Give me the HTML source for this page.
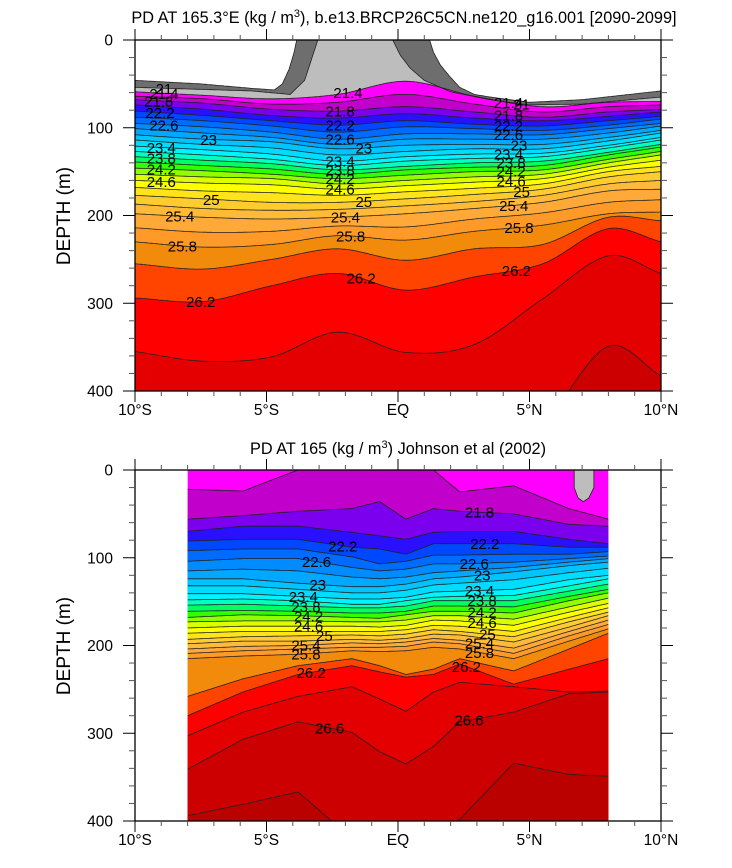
<!DOCTYPE html>
<html><head><meta charset="utf-8"><style>
body{margin:0;background:#fff;}
svg{display:block;font-family:"Liberation Sans",Arial,sans-serif;}
</style></head><body>
<svg id="chart" width="732" height="868" viewBox="0 0 732 868" xmlns="http://www.w3.org/2000/svg">
<text x="404" y="23" font-size="16.3" text-anchor="middle">PD AT 165.3°E (kg / m<tspan font-size="11" dy="-6">3</tspan><tspan dy="6">), b.e13.BRCP26C5CN.ne120_g16.001 [2090-2099]</tspan></text>
<text x="398" y="454" font-size="16.3" text-anchor="middle">PD AT 165 (kg / m<tspan font-size="11" dy="-6">3</tspan><tspan dy="6">) Johnson et al (2002)</tspan></text>
<text transform="translate(70,216) rotate(-90)" font-size="19" text-anchor="middle">DEPTH (m)</text>
<text transform="translate(70,646) rotate(-90)" font-size="19" text-anchor="middle">DEPTH (m)</text>
<g id="top-panel"></g>
<g id="bottom-panel"></g>
</svg>
<script>
// ---------- data ----------
const bandLevels=[20.6,21.0,21.4,21.6,21.8,22.0,22.2,22.4,22.6,22.8,23.0,23.2,23.4,23.6,23.8,24.0,24.2,24.4,24.6,24.8,25.0,25.2,25.4,25.6,25.8,26.0,26.2,26.4,26.6,26.8];
const bandColors=["#6e6e6e","#bdbdbd","#ff00ff","#c200cc","#7a00ee","#2a10ff","#0048ff","#006cff","#008cff","#00a8ff","#00c4ff","#00dcff","#00f4ff","#00ffc0","#00ff60","#30ff00","#90ff00","#dcff00","#ffff00","#ffe41c","#ffcc30","#ffbb38","#ffaa38","#ff9a28","#f28a0c","#ff4400","#ff0000","#e40000","#cc0000","#bb0000"];

// top panel (model): isopycnal depths (m) per latitude
const topLats=[-10,-7.4,-4.8,-2.3,0.3,2.9,5.5,8,10];
const topLevels=[21.4,21.6,21.8,22.0,22.2,22.4,22.6,22.8,23.0,23.2,23.4,23.6,23.8,24.0,24.2,24.4,24.6,24.8,25.0,25.2,25.4,25.6,25.8,26.0,26.2,26.4,26.6];
const topProfS10=[59,64,68,74,81,88,95,101,108,114,121,127,133,139,146,153,160,168,177,187,198,214,230,255,294,355,432];
const topProfS7=[63,67,72,79,86,92,99,106,113,119,125,131,137,143,149,156,163,172,181,192,202,219,236,261,298,366,432];
const topProfS5=[67,73,79,86,92,98,105,111,116,123,130,136,141,147,153,158,165,174,185,194,204,218,233,250,280,361,432];
const topProfS2=[62,71,81,89,97,105,113,119,124,131,138,143,148,153,158,164,170,177,185,193,202,212,223,238,266,333,432];
const topProfEQ=[47,62,76,84,92,99,107,113,120,127,133,138,144,148,154,160,166,173,181,189,198,213,228,251,285,356,432];
const topProfN3=[64,73,82,89,96,101,107,113,119,124,130,135,140,145,150,156,162,169,176,184,192,204,218,238,270,347,432];
const topProfN5=[76,82,88,92,98,103,108,113,119,124,129,133,138,143,148,153,158,164,170,177,185,197,211,233,255,295,432];
const topProfN8=[71,76,82,87,92,97,101,106,111,115,120,123,128,131,136,140,145,150,156,164,172,185,198,202,215,246,349];
const topProfN10=[70,74,79,82,87,90,95,98,103,106,111,114,119,122,127,131,137,144,150,160,170,182,196,206,230,266,383];
const topProfiles=[topProfS10,topProfS7,topProfS5,topProfS2,topProfEQ,topProfN3,topProfN5,topProfN8,topProfN10];
// surface grey layers
const iso206Lats=[-10,-7.5,-5.6,-4.7,-4.4,-4.15,-3.95,-3.85,1.2,1.35,1.6,1.95,2.35,2.9,3.5,5,7,10];
const iso206Depth=[46,50,55,57,50,34,14,0,0,14,28,41,54,62,65,71,68,58];
const iso210Lats=[-10,-5.6,-4.1,-3.55,-3.3,-3.05,-0.2,0.08,0.46,1.0,2.0,3.5,5,7,10];
const iso210Depth=[54,58,62,46,23,0,0,17,32,46,59,68,74,73,65];

// bottom panel (observations)
const obsLats=[-8,-5.9,-3.8,-1.75,-0.7,0.3,1.35,2.35,4.4,6.5,8];
const obsLevels=[21.6,21.8,22.0,22.2,22.4,22.6,22.8,23.0,23.2,23.4,23.6,23.8,24.0,24.2,24.4,24.6,24.8,25.0,25.2,25.4,25.6,25.8,26.0,26.2,26.4,26.6,26.8];
const obsProf1=[22,56,70,81,92,104,115,124,132,141,148,154,161,168,173,180,186,193,198,204,209,215,258,280,303,341,394];
const obsProf2=[24,52,64,79,90,101,113,124,132,141,147,153,160,165,172,178,184,190,195,201,206,212,238,253,276,307,381];
const obsProf3=[0,47,64,79,90,101,115,129,136,144,149,155,161,166,172,178,184,189,195,200,204,210,223,233,258,287,367];
const obsProf4=[0,44,71,88,99,111,122,133,140,147,153,157,163,168,173,178,184,188,193,197,202,206,215,223,247,299,420];
const obsProf5=[0,36,75,90,107,115,124,133,140,147,153,157,163,169,173,179,184,189,194,198,202,207,223,230,261,321,420];
const obsProf6=[0,56,79,96,104,113,122,130,137,145,149,155,161,165,171,177,182,187,192,196,201,206,233,236,275,335,420];
const obsProf7=[0,44,71,84,97,107,117,124,131,139,145,149,155,161,166,171,177,182,187,192,196,202,227,233,253,315,420];
const obsProf8=[25,47,70,84,97,107,115,122,129,138,144,149,155,161,166,172,178,184,188,194,198,204,215,221,242,287,398];
const obsProf9=[18,50,70,84,96,105,111,116,125,136,143,149,156,163,170,177,184,190,196,203,209,215,229,244,247,276,334];
const obsProf10=[44,62,79,88,96,101,105,109,117,125,132,138,144,149,156,162,168,173,179,184,189,195,204,227,253,255,347];
const obsProf11=[56,64,84,88,93,98,101,105,112,120,124,130,136,140,146,152,157,162,166,171,176,181,186,215,252,253,349];
const obsProfiles=[obsProf1,obsProf2,obsProf3,obsProf4,obsProf5,obsProf6,obsProf7,obsProf8,obsProf9,obsProf10,obsProf11];
const obsBlobLats=[6.7,6.7,6.85,7.05,7.25,7.45,7.45];
const obsBlobDepth=[0,20,32,36,32,20,0];

const topLabels=[[21.0,-8.9],[21.4,-8.9],[21.8,-9.1],[22.2,-9.05],[22.6,-8.9],[23.0,-7.2],[23.4,-9.0],[23.8,-9.0],[24.2,-9.0],[24.6,-9.0],[25.0,-7.1],[25.4,-8.3],[25.8,-8.2],[26.2,-7.5],
 [21.4,-1.9],[21.8,-2.2],[22.2,-2.2],[22.6,-2.2],[23.0,-1.3],[23.4,-2.2],[23.8,-2.2],[24.2,-2.2],[24.6,-2.2],[25.0,-1.3],[25.4,-2.0],[25.8,-1.8],[26.2,-1.4],
 [21.0,4.7],[21.4,4.2],[21.8,4.2],[22.2,4.2],[22.6,4.2],[23.0,4.6],[23.4,4.2],[23.8,4.3],[24.2,4.3],[24.6,4.3],[25.0,4.7],[25.4,4.4],[25.8,4.6],[26.2,4.5]];
const obsLabels=[[21.8,3.1],[22.2,-2.1],[22.2,3.3],[22.6,-3.1],[22.6,2.9],[23.0,-3.05],[23.0,3.2],[23.4,-3.6],[23.4,3.1],[23.8,-3.5],[23.8,3.2],[24.2,-3.4],[24.2,3.2],[24.6,-3.4],[24.6,3.2],[25.0,-2.8],[25.0,3.4],[25.4,-3.5],[25.4,3.1],[25.8,-3.5],[25.8,3.1],[26.2,-3.3],[26.2,2.6],[26.6,-2.6],[26.6,2.7]];
const xTickVals=[-10,-5,0,5,10];
const xTickLabels=["10°S","5°S","EQ","5°N","10°N"];
const yTickVals=[0,100,200,300,400];

// ---------- drawing ----------
const NS="http://www.w3.org/2000/svg";
const X0=135,X1=661;
function mk(tag,attrs,parent){const e=document.createElementNS(NS,tag);for(const k in attrs)e.setAttribute(k,attrs[k]);parent.appendChild(e);return e;}
function colorFor(l){let c="#ffffff";for(let i=0;i<bandLevels.length;i++){if(l>=bandLevels[i]-1e-6)c=bandColors[i];}return c;}
function hermite(xs,ys,x){
  let i=0;while(i<xs.length-2&&x>xs[i+1])i++;
  const x0=xs[i],x1=xs[i+1],y0=ys[i],y1=ys[i+1],h=x1-x0;
  const m0=i>0?(ys[i+1]-ys[i-1])/(xs[i+1]-xs[i-1]):(y1-y0)/h;
  const m1=i<xs.length-2?(ys[i+2]-ys[i])/(xs[i+2]-xs[i]):(y1-y0)/h;
  const t=Math.max(0,Math.min(1,(x-x0)/h)),t2=t*t,t3=t2*t;
  return (2*t3-3*t2+1)*y0+(t3-2*t2+t)*h*m0+(-2*t3+3*t2)*y1+(t3-t2)*h*m1;
}
function linear(xs,ys,x){let i=0;while(i<xs.length-2&&x>xs[i+1])i++;const t=Math.max(0,Math.min(1,(x-xs[i])/(xs[i+1]-xs[i])));return ys[i]+(ys[i+1]-ys[i])*t;}

function panel(g,Y0,Y1,idx){
  const sx=l=>X0+(l+10)/20*(X1-X0);
  const sy=d=>Y0+Math.max(0,Math.min(d,400))/400*(Y1-Y0);
  const clipId='clip'+idx;
  const defs=mk('defs',{},g);const cp=mk('clipPath',{id:clipId},defs);mk('rect',{x:X0,y:Y0,width:X1-X0,height:Y1-Y0},cp);
  const inner=mk('g',{'clip-path':'url(#'+clipId+')'},g);
  return {sx,sy,inner};
}
function curvePts(xs,ys,sx,sy,fn,l0,l1){
  const pts=[];for(let l=l0;l<=l1+1e-9;l+=0.05){pts.push([sx(l),sy(fn(xs,ys,l))]);}return pts;
}
function drawLevel(inner,pts,col,Ybot,name){
  const d='M'+pts.map(p=>p[0].toFixed(1)+','+p[1].toFixed(1)).join('L');
  const f=mk('path',{d:d+'L'+pts[pts.length-1][0].toFixed(1)+','+(Ybot+2)+'L'+pts[0][0].toFixed(1)+','+(Ybot+2)+'Z',fill:col,stroke:'none'},inner);
  
  
  return d;
}
function axes(g,Y0,Y1,sx,sy,pfx){
  const ax=mk('rect',{x:X0,y:Y0,width:X1-X0,height:Y1-Y0,fill:'none',stroke:'#000','stroke-width':1.3},g);
  
  
  for(let l=-10;l<=10;l++){const x=sx(l),maj=l%5===0,L=maj?11:5;
    mk('line',{x1:x,x2:x,y1:Y1,y2:Y1+L,stroke:maj?'#000':'#555','stroke-width':1},g);
    mk('line',{x1:x,x2:x,y1:Y0,y2:Y0-L,stroke:maj?'#000':'#555','stroke-width':1},g);}
  for(let d=0;d<=400;d+=20){const y=sy(d),maj=d%100===0,L=maj?12:6;
    mk('line',{x1:X0,x2:X0-L,y1:y,y2:y,stroke:maj?'#000':'#555','stroke-width':1},g);
    mk('line',{x1:X1,x2:X1+L,y1:y,y2:y,stroke:maj?'#000':'#555','stroke-width':1},g);}
  yTickVals.forEach(v=>{const t=mk('text',{x:113,y:sy(v)+5.5,'font-size':15.5,'text-anchor':'end'},g);t.textContent=v;
    
    });
  xTickVals.forEach((v,i)=>{const t=mk('text',{x:sx(v),y:Y1+24,'font-size':15.5,'text-anchor':'middle'},g);t.textContent=xTickLabels[i];
    
    });
}
function label(g,txt,x,y){const t=mk('text',{x:x,y:y+5.5,'font-size':15,'text-anchor':'middle'},g);t.textContent=txt;
  
  }
function fmt(v){return (Math.round(v*10)/10).toString();}

// top panel
(function(){
  const g=document.getElementById('top-panel');const Y0=40,Y1=391;
  const {sx,sy,inner}=panel(g,Y0,Y1,1);
  mk('rect',{x:X0,y:Y0,width:X1-X0,height:Y1-Y0,fill:'#fff'},inner);
  const lines=[];
  lines.push(drawLevel(inner,curvePts(iso206Lats,iso206Depth,sx,sy,linear,-10,10),colorFor(20.6),Y1,'iso-20-6'));
  lines.push(drawLevel(inner,curvePts(iso210Lats,iso210Depth,sx,sy,linear,-10,10),colorFor(21.0),Y1,'iso-21-0'));
  topLevels.forEach((lv,k)=>{
    const ys=topProfiles.map(p=>p[k]);
    lines.push(drawLevel(inner,curvePts(topLats,ys,sx,sy,hermite,-10,10),colorFor(lv),Y1,'iso-'+fmt(lv)));
  });
  lines.forEach(d=>{const p=mk('path',{d:d,fill:'none',stroke:'#222','stroke-width':0.8},inner);
    
    });
  topLabels.forEach(([lv,lat])=>{
    let dep;
    if(lv<21.2){dep=linear(iso210Lats,iso210Depth,lat);}
    else{const k=topLevels.findIndex(v=>Math.abs(v-lv)<1e-6);dep=hermite(topLats,topProfiles.map(p=>p[k]),lat);}
    label(inner,lv===21?'21':fmt(lv),sx(lat),sy(dep));
  });
  axes(g,Y0,Y1,sx,sy,'top');
})();

// bottom panel
(function(){
  const g=document.getElementById('bottom-panel');const Y0=470,Y1=821;
  const {sx,sy,inner}=panel(g,Y0,Y1,2);
  const dataClip=mk('clipPath',{id:'clipdata'},g.querySelector('defs'));
  mk('rect',{x:sx(-8),y:Y0,width:sx(8)-sx(-8),height:Y1-Y0},dataClip);
  const dg=mk('g',{'clip-path':'url(#clipdata)'},inner);
  const bg=mk('rect',{x:sx(-8),y:Y0,width:sx(8)-sx(-8),height:Y1-Y0,fill:colorFor(21.4)},dg);
  
  
  const lines=[];
  obsLevels.forEach((lv,k)=>{
    const ys=obsProfiles.map(p=>p[k]);
    lines.push(drawLevel(dg,curvePts(obsLats,ys,sx,sy,linear,-8,8),colorFor(lv),Y1,'obs-iso-'+fmt(lv)));
  });
  lines.forEach(d=>{const p=mk('path',{d:d,fill:'none',stroke:'#222','stroke-width':0.8},dg);
    
    });
  const bl=mk('path',{d:'M'+obsBlobLats.map((l,i)=>sx(l).toFixed(1)+','+sy(obsBlobDepth[i]).toFixed(1)).join('L')+'Z',fill:colorFor(21.0),stroke:'#222','stroke-width':0.8},dg);
  
  
  obsLabels.forEach(([lv,lat])=>{
    const k=obsLevels.findIndex(v=>Math.abs(v-lv)<1e-6);
    const dep=linear(obsLats,obsProfiles.map(p=>p[k]),lat);
    label(dg,fmt(lv),sx(lat),sy(dep));
  });
  axes(g,Y0,Y1,sx,sy,'bottom');
})();
</script>
</body></html>
